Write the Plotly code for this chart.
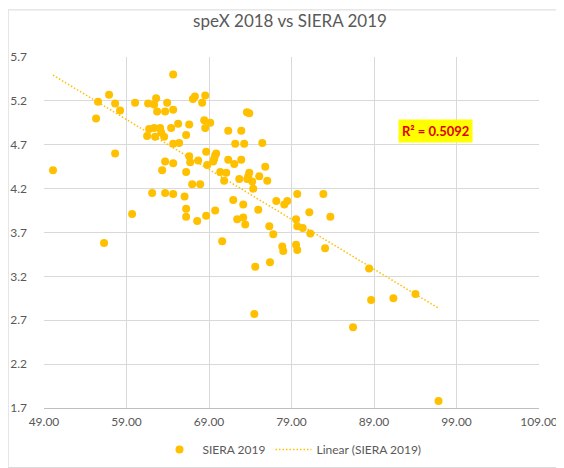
import numpy as np
import plotly.graph_objects as go

# speX 2018 (x) vs SIERA 2019 (y)
spex_2018 = [50.09, 55.31, 55.55, 56.28, 56.89, 57.62, 57.62, 58.22, 59.68, 60.04,
             61.50, 61.62, 61.74, 62.11, 62.35, 62.35, 62.47, 62.59, 62.71, 63.08,
             63.20, 63.32, 63.56, 63.68, 63.68, 63.68, 63.93, 64.41, 64.66, 64.66,
             64.66, 64.66, 64.66, 65.26, 65.38, 66.04, 66.23, 66.23, 66.23, 66.23,
             66.60, 66.60, 66.72, 66.96, 67.05, 67.29, 67.57, 67.69, 67.93, 68.17,
             68.42, 68.54, 68.54, 68.66, 68.66, 68.78, 69.15, 69.51, 69.63, 69.75,
             69.87, 69.75, 70.36, 70.60, 70.84, 71.09, 71.33, 71.33, 71.94, 72.06,
             72.18, 72.42, 72.67, 72.91, 72.91, 73.15, 73.15, 73.27, 73.39, 73.60,
             73.88, 73.64, 73.76, 73.88, 74.24, 74.36, 74.49, 74.61, 74.97, 75.09,
             75.46, 75.82, 76.06, 76.31, 76.39, 76.79, 77.16, 77.88, 78.00, 78.13,
             78.49, 79.55, 79.55, 79.70, 79.70, 79.70, 80.36, 81.16, 81.28, 82.86,
             83.07, 83.71, 86.46, 88.41, 88.65, 91.35, 94.02, 96.82]
siera_2019 = [4.41, 5.00, 5.19, 3.58, 5.27, 5.17, 4.60, 5.09, 3.91, 5.18,
              4.80, 5.17, 4.88, 4.15, 5.16, 4.89, 4.79, 5.23, 5.08, 4.89,
              4.84, 4.41, 4.79, 5.08, 4.51, 4.15, 5.18, 4.89, 5.50, 5.10,
              4.71, 4.49, 4.14, 4.94, 4.72, 4.11, 4.81, 4.39, 3.97, 3.88,
              4.93, 4.57, 4.50, 4.25, 5.22, 5.25, 3.83, 4.52, 4.25, 5.18,
              4.98, 5.26, 4.89, 4.62, 3.89, 4.47, 4.95, 4.51, 4.54, 4.58,
              4.60, 3.95, 4.39, 3.60, 4.29, 4.38, 4.86, 4.53, 4.07, 4.48,
              4.71, 3.85, 4.31, 4.86, 4.53, 4.02, 3.87, 4.71, 3.79, 5.07,
              5.06, 4.31, 4.34, 4.38, 4.28, 4.20, 2.77, 3.31, 3.96, 4.34,
              4.72, 4.45, 4.29, 3.77, 3.36, 3.68, 4.06, 3.54, 3.49, 4.02,
              4.06, 3.85, 3.56, 3.50, 3.77, 4.14, 3.75, 3.93, 3.69, 4.14,
              3.52, 3.88, 2.62, 3.29, 2.93, 2.95, 3.00, 1.78]
r2_text = "R² = 0.5092"

x = np.array(spex_2018)
y = np.array(siera_2019)

# linear trendline
slope, intercept = np.polyfit(x, y, 1)
trend_x = np.array([x.min(), x.max()])
trend_y = slope * trend_x + intercept

gold = "#FFC000"
grey_txt = "#595959"
grid = "#D9D9D9"
font = "Lato"

fig = go.Figure()
fig.add_trace(go.Scatter(
    x=x, y=y, mode="markers", name="SIERA 2019",
    marker=dict(color=gold, size=8, line=dict(width=0)),
))
fig.add_trace(go.Scatter(
    x=trend_x, y=trend_y, mode="lines", name="Linear (SIERA 2019)",
    line=dict(color=gold, width=1.5, dash="1.5px,2px"),
))

fig.update_layout(
    template="none",
    width=564, height=468,
    margin=dict(l=36, r=33, t=49, b=62),
    paper_bgcolor="white", plot_bgcolor="white",
    font=dict(family=font, size=12, color=grey_txt),
    title=dict(text="speX 2018 vs SIERA 2019", x=0.5, xanchor="center",
               yref="container", y=0.972, yanchor="middle",
               font=dict(family=font, size=17, color=grey_txt)),
    showlegend=True,
    legend=dict(orientation="h", x=0.5, xanchor="center", y=-0.118, yanchor="middle",
                font=dict(size=12, color=grey_txt), itemwidth=36,
                bgcolor="rgba(0,0,0,0)"),
    xaxis=dict(range=[49, 109], tick0=49, dtick=10, tickformat=".2f",
               showgrid=True, gridcolor=grid, gridwidth=1,
               showline=True, linecolor="#BFBFBF", linewidth=1,
               zeroline=False, ticks="", automargin=False,
               ticklabelstandoff=3,
               tickfont=dict(size=12, color=grey_txt)),
    yaxis=dict(range=[1.7, 5.7], tick0=1.7, dtick=0.5, tickformat=".1f",
               showgrid=True, gridcolor=grid, gridwidth=1,
               showline=False, zeroline=False, ticks="", automargin=False,
               ticklabelstandoff=16,
               tickfont=dict(size=12, color=grey_txt)),
)

# R² label
fig.add_annotation(
    xref="paper", yref="paper", x=0.8665, y=0.8236,
    text="<b>" + r2_text + "</b>", showarrow=False,
    font=dict(family=font, size=13, color="#E00000"),
    bgcolor="#FFFF00", borderpad=3,
)

# chart area border
fig.add_shape(type="rect", xref="paper", yref="paper",
              x0=-0.0724, x1=1.0643, y0=-0.1697, y1=1.1343,
              line=dict(color=grid, width=1), fillcolor="rgba(0,0,0,0)", layer="below")

fig.write_html("out.html")
